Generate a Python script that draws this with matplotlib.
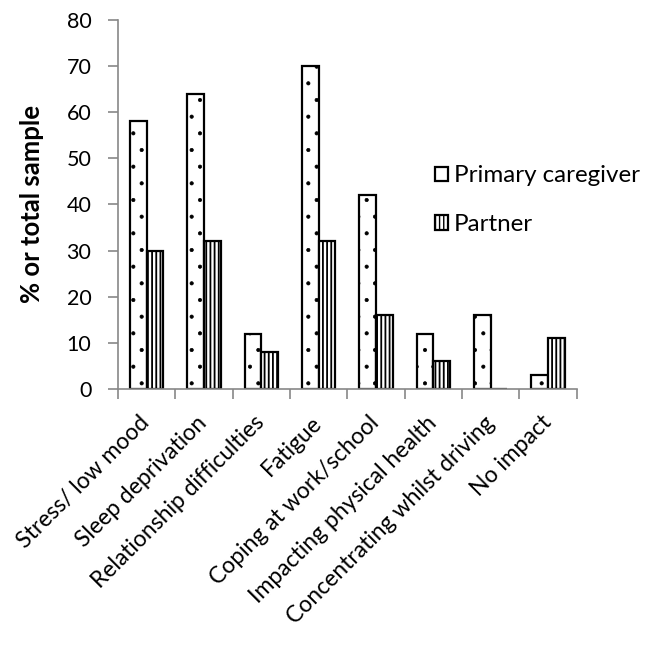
import matplotlib.pyplot as plt
import numpy as np

plt.rcParams['font.family'] = ['Lato', 'DejaVu Sans']

categories = ['Stress/ low mood', 'Sleep deprivation', 'Relationship difficulties', 'Fatigue',
              'Coping at work/school', 'Impacting physical health', 'Concentrating whilst driving', 'No impact']
primary = [58, 64, 12, 70, 42, 12, 16, 3]
partner = [30, 32, 8, 32, 16, 6, 0, 11]

fig = plt.figure(figsize=(6.51, 6.46), dpi=100)
ax = fig.add_axes([0.181, 0.398, 0.705, 0.571])

x = np.arange(len(categories))
w = 0.29
with plt.rc_context({'hatch.linewidth': 0.5}):
    ax.bar(x - w / 2, primary, w, facecolor='white', edgecolor='black', linewidth=1.6,
           hatch='.', label='Primary caregiver')
with plt.rc_context({'hatch.linewidth': 1.3}):
    ax.bar(x + w / 2, partner, w, facecolor='white', edgecolor='black', linewidth=1.6,
           hatch='||||', label='Partner')

ax.set_xlim(-0.5, len(categories) - 0.5)
ax.set_ylim(0, 80)
ax.set_yticks(range(0, 81, 10))
ax.set_xticks(x)
ax.set_xticklabels(categories, rotation=45, ha='right', va='center', rotation_mode='anchor', fontsize=16.5)
ax.set_xticks(np.arange(-0.5, len(categories), 1), minor=True)
ax.tick_params(axis='x', which='major', length=0, pad=22)
ax.tick_params(axis='x', which='minor', length=7, direction='out', color='#888888', width=1.2)
ax.tick_params(axis='y', length=7, width=1.2, direction='out', color='#888888', labelsize=15.5, pad=12)

for s in ['top', 'right']:
    ax.spines[s].set_visible(False)
for s in ['left', 'bottom']:
    ax.spines[s].set_color('#888888')
    ax.spines[s].set_linewidth(1.2)

ax.set_ylabel('% or total sample', fontsize=18.5, fontweight='bold', labelpad=16)

ax.legend(loc='upper left', bbox_to_anchor=(0.69, 0.606), frameon=False, fontsize=17.4,
          handlelength=0.55, handleheight=0.55, handletextpad=0.25, labelspacing=1.15,
          borderaxespad=0, borderpad=0)

fig.savefig('out.png', dpi=100)
